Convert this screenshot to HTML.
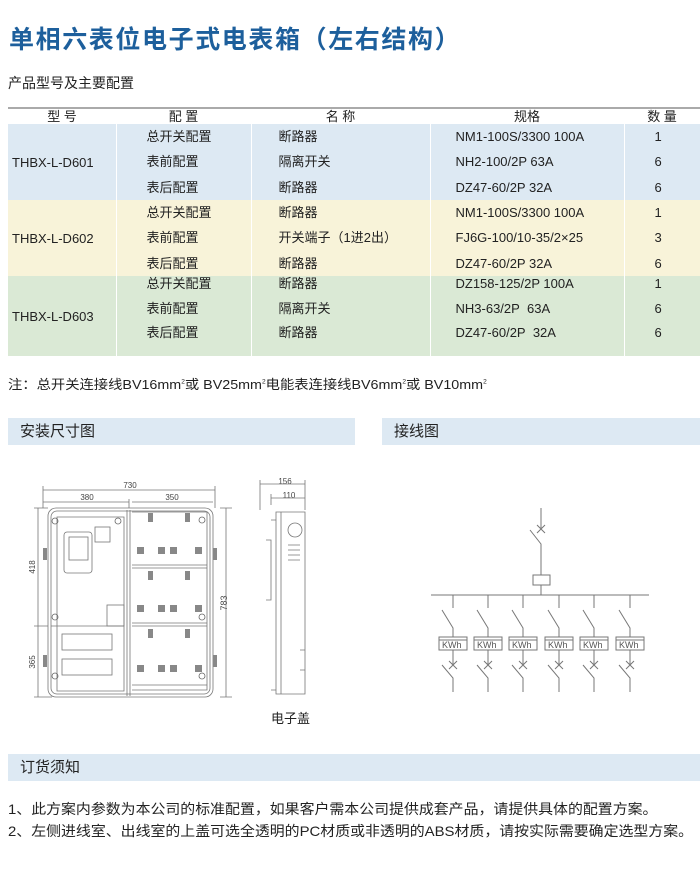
<!DOCTYPE html>
<html><head><meta charset="utf-8"><style>
body{margin:0;width:700px;height:883px;background:#fff;position:relative;font-family:"Liberation Sans","Noto Sans CJK SC",sans-serif;color:#222;overflow:hidden}
.a{position:absolute;white-space:nowrap}
.title{left:9px;top:20px;font-size:25px;font-weight:bold;color:#1d5f9c;letter-spacing:1.6px}
.sub{left:8px;top:73px;font-size:14px}
table{position:absolute;left:8px;top:107px;width:692px;border-collapse:collapse;font-size:13px;line-height:15px}
td{padding:0;height:24.5px;vertical-align:middle}
.hd td{height:15px;font-size:13px;text-align:center;border-top:2px solid #aaa;line-height:14px}
.b td{background:#dde9f3}.y td{background:#f8f3d9}.g td{background:#dae9d5}
.g td{vertical-align:top}
td.m{text-align:left;padding-left:4px;border-right:1px solid #fff}
.g td.m{vertical-align:middle}
.c1{border-right:1px solid #fff}
.sec{position:absolute;background:#dde9f3;font-size:15px;height:27px;line-height:27px;padding-left:12px;box-sizing:border-box}
</style></head><body>
<div class="a title">单相六表位电子式电表箱（左右结构）</div>
<div class="a sub">产品型号及主要配置</div>
<table>
<tr class="hd"><td style="width:108px">型 号</td><td style="width:135px">配 置</td><td style="width:179px">名 称</td><td style="width:194px">规格</td><td>数 量</td></tr>
<tr class="b"><td class="m" rowspan="3" style="height:76px">THBX-L-D601</td><td class="c1" style="padding-left:30px">总开关配置</td><td class="c1" style="padding-left:27px">断路器</td><td class="c1" style="padding-left:25px">NM1-100S/3300 100A</td><td style="padding-left:30px">1</td></tr>
<tr class="b"><td class="c1" style="padding-left:30px">表前配置</td><td class="c1" style="padding-left:27px">隔离开关</td><td class="c1" style="padding-left:25px">NH2-100/2P 63A</td><td style="padding-left:30px">6</td></tr>
<tr class="b"><td class="c1" style="padding-left:30px">表后配置</td><td class="c1" style="padding-left:27px">断路器</td><td class="c1" style="padding-left:25px">DZ47-60/2P 32A</td><td style="padding-left:30px">6</td></tr>
<tr class="y"><td class="m" rowspan="3" style="height:76px">THBX-L-D602</td><td class="c1" style="padding-left:30px">总开关配置</td><td class="c1" style="padding-left:27px">断路器</td><td class="c1" style="padding-left:25px">NM1-100S/3300 100A</td><td style="padding-left:30px">1</td></tr>
<tr class="y"><td class="c1" style="padding-left:30px">表前配置</td><td class="c1" style="padding-left:27px">开关端子（1进2出）</td><td class="c1" style="padding-left:25px">FJ6G-100/10-35/2×25</td><td style="padding-left:30px">3</td></tr>
<tr class="y"><td class="c1" style="padding-left:30px">表后配置</td><td class="c1" style="padding-left:27px">断路器</td><td class="c1" style="padding-left:25px">DZ47-60/2P 32A</td><td style="padding-left:30px">6</td></tr>
<tr class="g"><td class="m" rowspan="3" style="height:79px">THBX-L-D603</td><td class="c1" style="padding-left:30px;height:24px">总开关配置</td><td class="c1" style="padding-left:27px">断路器</td><td class="c1" style="padding-left:25px">DZ158-125/2P 100A</td><td style="padding-left:30px">1</td></tr>
<tr class="g"><td class="c1" style="padding-left:30px;height:24px">表前配置</td><td class="c1" style="padding-left:27px">隔离开关</td><td class="c1" style="padding-left:25px">NH3-63/2P&nbsp; 63A</td><td style="padding-left:30px">6</td></tr>
<tr class="g"><td class="c1" style="padding-left:30px;height:31px">表后配置</td><td class="c1" style="padding-left:27px">断路器</td><td class="c1" style="padding-left:25px">DZ47-60/2P&nbsp; 32A</td><td style="padding-left:30px">6</td></tr>
</table>
<div class="a" style="left:8px;top:374px;font-size:13px;transform:scaleX(1.1);transform-origin:0 0">注：总开关连接线BV16mm<sup style="font-size:6px">2</sup>或 BV25mm<sup style="font-size:6px">2</sup>电能表连接线BV6mm<sup style="font-size:6px">2</sup>或 BV10mm<sup style="font-size:6px">2</sup></div>
<div class="sec" style="left:8px;top:418px;width:347px">安装尺寸图</div>
<div class="sec" style="left:382px;top:418px;width:318px">接线图</div>
<div class="sec" style="left:8px;top:754px;width:692px">订货须知</div>
<div class="a" style="left:8px;top:799px;font-size:14px;transform:scaleX(1.065);transform-origin:0 0">1、此方案内参数为本公司的标准配置，如果客户需本公司提供成套产品，请提供具体的配置方案。</div>
<div class="a" style="left:8px;top:821px;font-size:14px;transform:scaleX(1.065);transform-origin:0 0">2、左侧进线室、出线室的上盖可选全透明的PC材质或非透明的ABS材质，请按实际需要确定选型方案。</div>
<svg class="a" style="left:0;top:470px" width="700" height="260" viewBox="0 470 700 260" font-family="Liberation Sans" font-size="8" fill="none" stroke="#777" stroke-width="0.8">
<g fill="#444" stroke="none" text-anchor="middle">
<text x="130" y="488">730</text><text x="87" y="500">380</text><text x="172" y="500">350</text>
<text x="285" y="484">156</text><text x="289" y="498">110</text>
<text transform="translate(35,567) rotate(-90)">418</text><text transform="translate(35,662) rotate(-90)">365</text>
<text transform="translate(227,603) rotate(-90)" font-size="9">783</text>
</g>
<path d="M43 490H215M43 502H129M132 502H213M43 486V508M215 486V508M129 499V508M38 508V697M34 626H48M34 697H52M34 508H48M226 508V697M220 508H232M220 697H232"/>
<path d="M260 484H305M271 498H305M260 480V510M305 480V510M271 494V505"/>
<rect x="48" y="508" width="165" height="189" rx="8"/>
<rect x="51" y="511" width="159" height="183" rx="6"/>
<path d="M57 517H124V691H57Z M127 510V696M130 510V696M132 512H207V690H132"/>
<rect x="64" y="532" width="28" height="41" rx="3"/><rect x="69" y="537" width="19" height="23"/>
<rect x="95" y="527" width="15" height="15"/>
<path d="M51 626H124"/><rect x="107" y="605" width="17" height="21"/>
<rect x="62" y="634" width="50" height="16"/><rect x="62" y="659" width="50" height="16"/>
<path d="M132 565H207M132 568H207M132 623H207M132 626H207M132 685H207"/>
<g fill="#888" stroke="none">
<rect x="137" y="547" width="7" height="7"/><rect x="158" y="547" width="7" height="7"/><rect x="170" y="547" width="7" height="7"/><rect x="195" y="547" width="7" height="7"/>
<rect x="137" y="605" width="7" height="7"/><rect x="158" y="605" width="7" height="7"/><rect x="170" y="605" width="7" height="7"/><rect x="195" y="605" width="7" height="7"/>
<rect x="137" y="665" width="7" height="7"/><rect x="158" y="665" width="7" height="7"/><rect x="170" y="665" width="7" height="7"/><rect x="195" y="665" width="7" height="7"/>
<rect x="148" y="513" width="5" height="9"/><rect x="185" y="513" width="5" height="9"/>
<rect x="148" y="571" width="5" height="9"/><rect x="185" y="571" width="5" height="9"/>
<rect x="148" y="629" width="5" height="9"/><rect x="185" y="629" width="5" height="9"/>
<rect x="43" y="548" width="4" height="12"/><rect x="43" y="655" width="4" height="12"/><rect x="213" y="548" width="4" height="12"/><rect x="213" y="655" width="4" height="12"/>
</g>
<g stroke="#666"><circle cx="55" cy="521" r="3"/><circle cx="118" cy="521" r="3"/><circle cx="202" cy="520" r="3"/><circle cx="55" cy="617" r="3"/><circle cx="202" cy="617" r="3"/><circle cx="55" cy="676" r="3"/><circle cx="202" cy="676" r="3"/></g>
<path d="M276 512H305V694H276Z M271 520H276V690H271 M266 540H271V600H266 M281 512V694M288 545H300M288 550H300M288 555H300M288 560H300M300 650H305V670H300"/>
<circle cx="295" cy="530" r="7"/>
</svg>
<div class="a" style="left:271px;top:708px;font-size:13px">电子盖</div>
<svg class="a" style="left:420px;top:500px" width="240" height="200" viewBox="420 500 240 200" fill="none" stroke="#777" stroke-width="1">
<path d="M541 508V528M537 525L545 533M545 525L537 533M530 530L541 544V575M541 585V595M431 595H649"/>
<rect x="533" y="575" width="17" height="10"/>
<g id="br"><path d="M453 595V608M442 610L453 628V637M453 650V665M449 661L457 669M457 661L449 669M442 665L453 678V692"/><rect x="439" y="637" width="28" height="13"/><path d="M439 640H467"/><text x="442" y="648" font-family="Liberation Sans" font-size="9" fill="#555" stroke="none">KWh</text></g>
<use href="#br" x="35"/><use href="#br" x="70"/><use href="#br" x="106"/><use href="#br" x="141"/><use href="#br" x="177"/>
</svg>
</body></html>
